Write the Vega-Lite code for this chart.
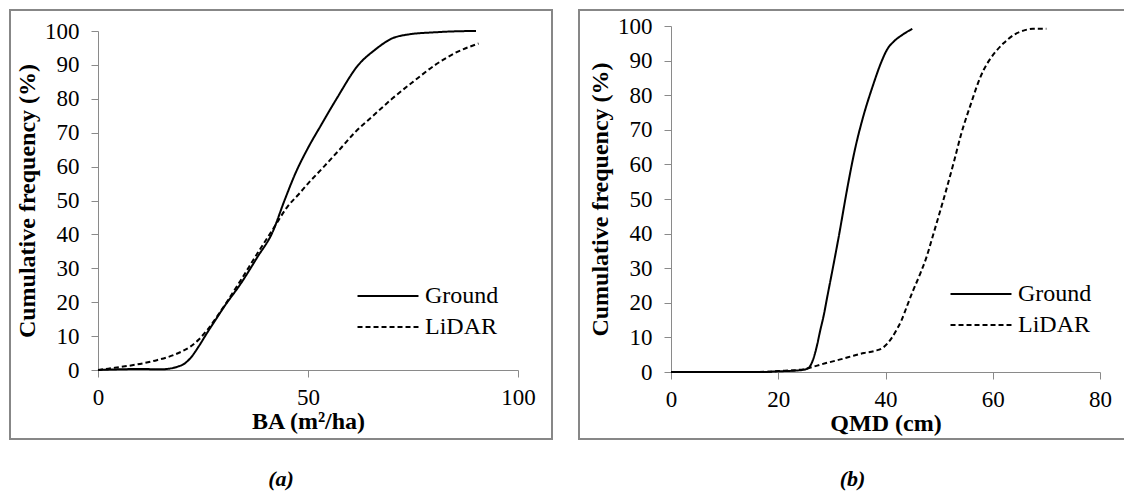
{
  "$schema": "https://vega.github.io/schema/vega-lite/v6.json",
  "padding": {"left": 9, "top": 9, "right": 0, "bottom": 0},
  "background": "white",
  "data": {"values": [
    {"panel": "a", "source": "Ground", "x": 0, "y": 0},
    {"panel": "a", "source": "Ground", "x": 5, "y": 0.2},
    {"panel": "a", "source": "Ground", "x": 10, "y": 0.3},
    {"panel": "a", "source": "Ground", "x": 15, "y": 0.2},
    {"panel": "a", "source": "Ground", "x": 17, "y": 0.4},
    {"panel": "a", "source": "Ground", "x": 19, "y": 1},
    {"panel": "a", "source": "Ground", "x": 20.5, "y": 1.8},
    {"panel": "a", "source": "Ground", "x": 22, "y": 3.5},
    {"panel": "a", "source": "Ground", "x": 24, "y": 7},
    {"panel": "a", "source": "Ground", "x": 26, "y": 11},
    {"panel": "a", "source": "Ground", "x": 28, "y": 14.8},
    {"panel": "a", "source": "Ground", "x": 30, "y": 18.6},
    {"panel": "a", "source": "Ground", "x": 34, "y": 25.5},
    {"panel": "a", "source": "Ground", "x": 38, "y": 33.4},
    {"panel": "a", "source": "Ground", "x": 41.5, "y": 40.5},
    {"panel": "a", "source": "Ground", "x": 44.4, "y": 50},
    {"panel": "a", "source": "Ground", "x": 47, "y": 58},
    {"panel": "a", "source": "Ground", "x": 50, "y": 65.5},
    {"panel": "a", "source": "Ground", "x": 53, "y": 72},
    {"panel": "a", "source": "Ground", "x": 56.8, "y": 80},
    {"panel": "a", "source": "Ground", "x": 62, "y": 90},
    {"panel": "a", "source": "Ground", "x": 66, "y": 94.5},
    {"panel": "a", "source": "Ground", "x": 70, "y": 97.8},
    {"panel": "a", "source": "Ground", "x": 74, "y": 99},
    {"panel": "a", "source": "Ground", "x": 80, "y": 99.6},
    {"panel": "a", "source": "Ground", "x": 85, "y": 99.9},
    {"panel": "a", "source": "Ground", "x": 90, "y": 100},
    {"panel": "a", "source": "LiDAR", "x": 0, "y": 0},
    {"panel": "a", "source": "LiDAR", "x": 3, "y": 0.5},
    {"panel": "a", "source": "LiDAR", "x": 6, "y": 1},
    {"panel": "a", "source": "LiDAR", "x": 10, "y": 1.8},
    {"panel": "a", "source": "LiDAR", "x": 14, "y": 2.9},
    {"panel": "a", "source": "LiDAR", "x": 18, "y": 4.4},
    {"panel": "a", "source": "LiDAR", "x": 20, "y": 5.5},
    {"panel": "a", "source": "LiDAR", "x": 22, "y": 6.9},
    {"panel": "a", "source": "LiDAR", "x": 24, "y": 9},
    {"panel": "a", "source": "LiDAR", "x": 26, "y": 11.8},
    {"panel": "a", "source": "LiDAR", "x": 30, "y": 18.8},
    {"panel": "a", "source": "LiDAR", "x": 34, "y": 26.5},
    {"panel": "a", "source": "LiDAR", "x": 38, "y": 34.5},
    {"panel": "a", "source": "LiDAR", "x": 41.9, "y": 42},
    {"panel": "a", "source": "LiDAR", "x": 45, "y": 48},
    {"panel": "a", "source": "LiDAR", "x": 47.9, "y": 52},
    {"panel": "a", "source": "LiDAR", "x": 50, "y": 55},
    {"panel": "a", "source": "LiDAR", "x": 53.8, "y": 60},
    {"panel": "a", "source": "LiDAR", "x": 57.5, "y": 65},
    {"panel": "a", "source": "LiDAR", "x": 61.1, "y": 70},
    {"panel": "a", "source": "LiDAR", "x": 65.5, "y": 75},
    {"panel": "a", "source": "LiDAR", "x": 70, "y": 80},
    {"panel": "a", "source": "LiDAR", "x": 75, "y": 85},
    {"panel": "a", "source": "LiDAR", "x": 80.3, "y": 90},
    {"panel": "a", "source": "LiDAR", "x": 85, "y": 93.5},
    {"panel": "a", "source": "LiDAR", "x": 90.6, "y": 96.3},
    {"panel": "b", "source": "Ground", "x": 0, "y": 0},
    {"panel": "b", "source": "Ground", "x": 10, "y": 0},
    {"panel": "b", "source": "Ground", "x": 17, "y": 0},
    {"panel": "b", "source": "Ground", "x": 20, "y": 0.2},
    {"panel": "b", "source": "Ground", "x": 24, "y": 0.5},
    {"panel": "b", "source": "Ground", "x": 25.5, "y": 1},
    {"panel": "b", "source": "Ground", "x": 26.5, "y": 3.6},
    {"panel": "b", "source": "Ground", "x": 27.2, "y": 7.5},
    {"panel": "b", "source": "Ground", "x": 27.8, "y": 11.8},
    {"panel": "b", "source": "Ground", "x": 28.5, "y": 16.5},
    {"panel": "b", "source": "Ground", "x": 29.1, "y": 21.4},
    {"panel": "b", "source": "Ground", "x": 30.3, "y": 31},
    {"panel": "b", "source": "Ground", "x": 31.5, "y": 41},
    {"panel": "b", "source": "Ground", "x": 32.4, "y": 49},
    {"panel": "b", "source": "Ground", "x": 33.1, "y": 55},
    {"panel": "b", "source": "Ground", "x": 34.4, "y": 65},
    {"panel": "b", "source": "Ground", "x": 35.7, "y": 73},
    {"panel": "b", "source": "Ground", "x": 37.7, "y": 83},
    {"panel": "b", "source": "Ground", "x": 39.2, "y": 89.5},
    {"panel": "b", "source": "Ground", "x": 40.3, "y": 93.2},
    {"panel": "b", "source": "Ground", "x": 41.6, "y": 95.6},
    {"panel": "b", "source": "Ground", "x": 43, "y": 97.3},
    {"panel": "b", "source": "Ground", "x": 45, "y": 99.2},
    {"panel": "b", "source": "LiDAR", "x": 0, "y": 0},
    {"panel": "b", "source": "LiDAR", "x": 10, "y": 0},
    {"panel": "b", "source": "LiDAR", "x": 15, "y": 0},
    {"panel": "b", "source": "LiDAR", "x": 18, "y": 0.1},
    {"panel": "b", "source": "LiDAR", "x": 20, "y": 0.3},
    {"panel": "b", "source": "LiDAR", "x": 23, "y": 0.5},
    {"panel": "b", "source": "LiDAR", "x": 25, "y": 0.9},
    {"panel": "b", "source": "LiDAR", "x": 26.5, "y": 1.5},
    {"panel": "b", "source": "LiDAR", "x": 28, "y": 2.2},
    {"panel": "b", "source": "LiDAR", "x": 30, "y": 3},
    {"panel": "b", "source": "LiDAR", "x": 32, "y": 3.8},
    {"panel": "b", "source": "LiDAR", "x": 34, "y": 4.7},
    {"panel": "b", "source": "LiDAR", "x": 36, "y": 5.5},
    {"panel": "b", "source": "LiDAR", "x": 38, "y": 6.1},
    {"panel": "b", "source": "LiDAR", "x": 39.5, "y": 7},
    {"panel": "b", "source": "LiDAR", "x": 41, "y": 9.5},
    {"panel": "b", "source": "LiDAR", "x": 42, "y": 12},
    {"panel": "b", "source": "LiDAR", "x": 43, "y": 15},
    {"panel": "b", "source": "LiDAR", "x": 44, "y": 19},
    {"panel": "b", "source": "LiDAR", "x": 45, "y": 23},
    {"panel": "b", "source": "LiDAR", "x": 46.5, "y": 28.5},
    {"panel": "b", "source": "LiDAR", "x": 47.6, "y": 33},
    {"panel": "b", "source": "LiDAR", "x": 48.9, "y": 39.7},
    {"panel": "b", "source": "LiDAR", "x": 50, "y": 45.5},
    {"panel": "b", "source": "LiDAR", "x": 50.9, "y": 50.3},
    {"panel": "b", "source": "LiDAR", "x": 52.8, "y": 61},
    {"panel": "b", "source": "LiDAR", "x": 54.1, "y": 68.7},
    {"panel": "b", "source": "LiDAR", "x": 56.1, "y": 78.3},
    {"panel": "b", "source": "LiDAR", "x": 57.2, "y": 83.3},
    {"panel": "b", "source": "LiDAR", "x": 58.3, "y": 87.3},
    {"panel": "b", "source": "LiDAR", "x": 59.4, "y": 90.2},
    {"panel": "b", "source": "LiDAR", "x": 60.5, "y": 92.5},
    {"panel": "b", "source": "LiDAR", "x": 62, "y": 95},
    {"panel": "b", "source": "LiDAR", "x": 64, "y": 97.5},
    {"panel": "b", "source": "LiDAR", "x": 66, "y": 98.8},
    {"panel": "b", "source": "LiDAR", "x": 67.5, "y": 99.2},
    {"panel": "b", "source": "LiDAR", "x": 70, "y": 99.2}
  ]},
  "spacing": 25,
  "hconcat": [
    {
      "width": 542,
      "height": 429,
      "title": {"text": "(a)", "orient": "bottom", "offset": 30},
      "transform": [{"filter": "datum.panel === 'a'"}],
      "mark": {"type": "line", "color": "black", "strokeWidth": 2, "interpolate": "monotone"},
      "encoding": {
        "x": {"field": "x", "type": "quantitative",
          "scale": {"domain": [0, 100], "range": [88, 508], "nice": false, "zero": false},
          "axis": {"title": "BA (m²/ha)", "values": [0, 50, 100], "offset": -69}},
        "y": {"field": "y", "type": "quantitative",
          "scale": {"domain": [0, 100], "range": [360, 21], "nice": false},
          "axis": {"title": "Cumulative frequency (%)", "values": [0, 10, 20, 30, 40, 50, 60, 70, 80, 90, 100], "offset": -88}},
        "strokeDash": {"field": "source", "type": "nominal",
          "scale": {"domain": ["Ground", "LiDAR"], "range": [[1, 0], [5, 3]]},
          "legend": {"orient": "none", "legendX": 366, "legendY": 274, "title": null, "labelOffset": 25}}
      }
    },
    {
      "width": 547,
      "height": 429,
      "title": {"text": "(b)", "orient": "bottom", "offset": 30},
      "transform": [{"filter": "datum.panel === 'b'"}],
      "mark": {"type": "line", "color": "black", "strokeWidth": 2, "interpolate": "monotone"},
      "encoding": {
        "x": {"field": "x", "type": "quantitative",
          "scale": {"domain": [0, 80], "range": [92, 521], "nice": false, "zero": false},
          "axis": {"title": "QMD (cm)", "values": [0, 20, 40, 60, 80], "offset": -67}},
        "y": {"field": "y", "type": "quantitative",
          "scale": {"domain": [0, 100], "range": [362, 16], "nice": false},
          "axis": {"title": "Cumulative frequency (%)", "values": [0, 10, 20, 30, 40, 50, 60, 70, 80, 90, 100], "offset": -92}},
        "strokeDash": {"field": "source", "type": "nominal",
          "scale": {"domain": ["Ground", "LiDAR"], "range": [[1, 0], [5, 3]]},
          "legend": {"orient": "none", "legendX": 390, "legendY": 272, "title": null, "labelOffset": 25}}
      }
    }
  ],
  "resolve": {
    "scale": {"x": "independent", "y": "independent", "strokeDash": "independent"},
    "legend": {"strokeDash": "independent"}
  },
  "config": {
    "font": "'Liberation Serif', 'DejaVu Serif', serif",
    "view": {"stroke": "#878787", "strokeWidth": 2, "fill": "white"},
    "title": {"font": "'Liberation Serif', 'DejaVu Serif', serif", "fontSize": 22, "fontWeight": "bold", "fontStyle": "italic", "color": "black", "anchor": "middle"},
    "axis": {
      "grid": false,
      "domainColor": "#8a8a8a",
      "tickColor": "#8a8a8a",
      "tickSize": 7,
      "labelFont": "'Liberation Serif', 'DejaVu Serif', serif",
      "labelFontSize": 23,
      "labelColor": "black",
      "labelPadding": 12,
      "labelFlush": false,
      "labelOverlap": false,
      "labelBound": false,
      "titleFont": "'Liberation Serif', 'DejaVu Serif', serif",
      "titleFontSize": 24,
      "titleFontWeight": "bold",
      "titleColor": "black"
    },
    "axisX": {"labelPadding": 9, "titlePadding": 0},
    "axisY": {"titlePadding": 5},
    "legend": {
      "symbolType": "M-3,0H3",
      "symbolSize": 413,
      "symbolStrokeWidth": 2,
      "symbolStrokeColor": "black",
      "labelFont": "'Liberation Serif', 'DejaVu Serif', serif",
      "labelFontSize": 24,
      "labelColor": "black",
      "rowPadding": 7,
      "padding": 0
    }
  }
}
